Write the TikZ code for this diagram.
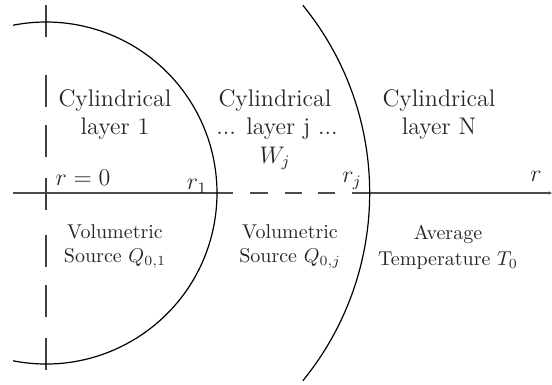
\documentclass[tikz,border=0pt]{standalone}
\usetikzlibrary{arrows.meta}
\begin{document}
\begin{tikzpicture}[x=0.5pt,y=-0.5pt,
  axis/.style={line width=0.75pt, black!70},
  vaxis/.style={line width=0.7pt, black!75},
  circ/.style={line width=0.6pt, black},
  big/.style={font=\large, anchor=base, inner sep=0pt, text=black!85},
  small/.style={font=\normalsize, anchor=base, inner sep=0pt, text=black!85}]
\useasboundingbox (0,0) rectangle (552,385);
% axis
\coordinate (O) at (46,193);
\coordinate (L) at (13,193);
\coordinate (R1) at (233,193);
\coordinate (RJ) at (352,193);
\coordinate (E) at (552,193);
\draw[axis] (L) -- (R1);
\foreach \a/\b in {250/268,285/302,318/335} \draw[axis] (\a,193) -- (\b,193);
\draw[axis,-{Latex[length=1.6pt,width=1.8pt]}] (RJ) -- (E);
% vertical dashed line through r=0
\foreach \a/\b in {5/37,75/107,125/157,178/210,235/267,285/317,338/370}
  \draw[vaxis] (46,\a) -- (46,\b);
% inner circle (layer 1)
\draw[circ] (O) ++(101.1:171) arc[start angle=101.1, end angle=-101.1, radius=171];
% outer arc (layer j boundary)
\coordinate (C2) at (72.7,193);
\draw[circ] (C2) ++(39.2:297) arc[start angle=39.2, end angle=-39.2, radius=297];
% upper labels
\node[big] (c1a) at (115,107) {Cylindrical};
\node[big] (c1b) at (115,135) {layer 1};
\node[big] (cja) at (275,107) {Cylindrical};
\node[big] (cjb) at (277,135) {... layer j ...};
\node[big] (cjc) at (275,163) {$W_j$};
\node[big] (cna) at (439,107) {Cylindrical};
\node[big] (cnb) at (439,135) {layer N};
% axis labels
\node[big] (l0) at (83,185) {$r=0$};
\node[big] (l1) at (197,190) {$r_1$};
\node[big] (lj) at (352,183) {$r_j$};
\node[big] (lr) at (536,182) {$r$};
% lower labels
\node[small] (v1a) at (115,238) {Volumetric};
\node[small] (v1b) at (115,263) {Source $Q_{0,1}$};
\node[small] (vja) at (290,238) {Volumetric};
\node[small] (vjb) at (290,263) {Source $Q_{0,j}$};
\node[small] (ta) at (448,240) {Average};
\node[small] (tb) at (448,265) {Temperature $T_0$};
\end{tikzpicture}
\end{document}
